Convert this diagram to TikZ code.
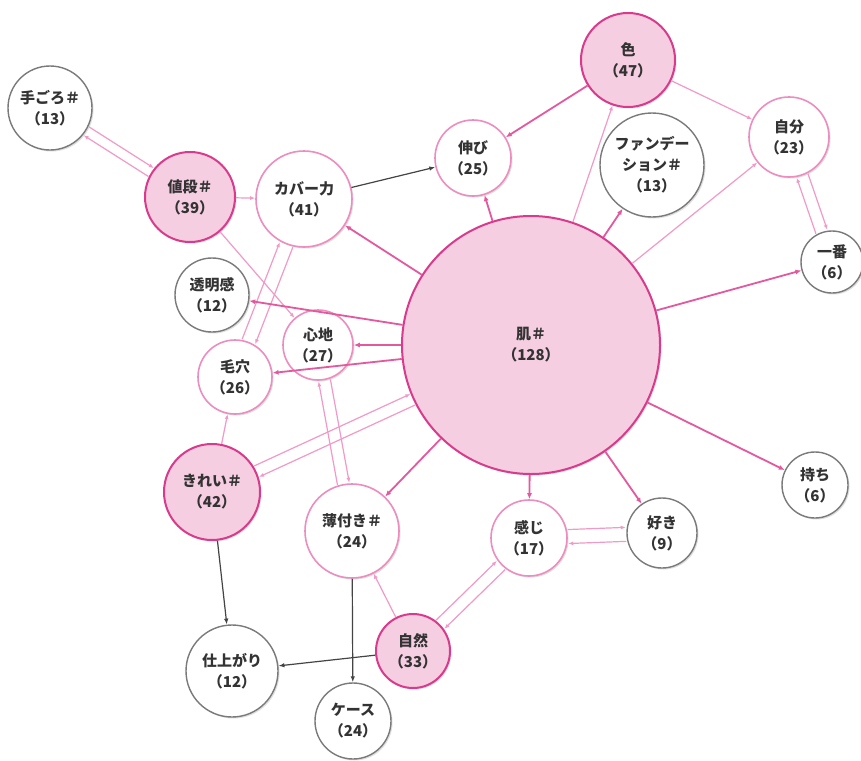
\documentclass[tikz,border=0pt]{standalone}
\usepackage{fontspec}
\setmainfont{Noto Sans CJK JP}
\usetikzlibrary{calc,arrows.meta,shadows}
\definecolor{pkfill}{HTML}{F6CEE2}
\definecolor{pkdark}{HTML}{D93A8C}
\definecolor{pkline}{HTML}{E4589E}
\definecolor{pklight}{HTML}{F29AC6}
\definecolor{pkborder}{HTML}{EC8DBE}
\definecolor{gyborder}{HTML}{7A7A7A}
\definecolor{txt}{HTML}{333333}
\definecolor{gyline}{HTML}{444444}
\newcommand\twoway[5]{%
  \draw[lp, shorten <=#3, shorten >=#4] ($(#1)!#5!90:(#2)$) -- ($(#2)!#5!-90:(#1)$);
  \draw[lp, shorten <=#4, shorten >=#3] ($(#2)!#5!90:(#1)$) -- ($(#1)!#5!-90:(#2)$);
}
\begin{document}
\begin{tikzpicture}[x=1pt,y=-1pt,
  base/.style={circle, inner sep=0pt, align=center, text=txt,
    font=\fontsize{15}{21}\selectfont\bfseries,
    drop shadow={shadow xshift=1.5pt, shadow yshift=-1.5pt, opacity=0.25}},
  gnode/.style={base, draw=gyborder, line width=1.4pt, fill=white},
  wnode/.style={base, draw=pkborder, line width=1.6pt, fill=white},
  pnode/.style={base, draw=pkdark, line width=2pt, fill=pkfill},
  dp/.style={draw=pkline, line width=1.8pt, -{Latex[length=6pt,width=5pt]}},
  lp/.style={draw=pklight, line width=1.2pt, -{Latex[length=5pt,width=4pt]}},
  gy/.style={draw=gyline, line width=1.2pt, -{Latex[length=6pt,width=4.5pt]}}
]
\useasboundingbox[fill=white] (0,0) rectangle (861,760);

\node[gnode, minimum size=84] (teg) at (50,108) {手ごろ＃\\（13）};
\node[pnode, minimum size=90] (ned) at (190,197) {値段＃\\（39）};
\node[wnode, minimum size=96] (cov) at (304,199) {カバー力\\（41）};
\node[wnode, minimum size=76] (nob) at (473,158) {伸び\\（25）};
\node[pnode, minimum size=94] (iro) at (628,60) {色\\（47）};
\node[gnode, minimum size=104] (fan) at (652,165) {ファンデー\\ション＃\\（13）};
\node[wnode, minimum size=80] (jib) at (789,137) {自分\\（23）};
\node[gnode, minimum size=62] (ich) at (832,262) {一番\\（6）};
\node[gnode, minimum size=74] (tom) at (212,295) {透明感\\（12）};
\node[wnode, minimum size=70] (koc) at (318,345) {心地\\（27）};
\node[wnode, minimum size=74] (ken) at (235,377) {毛穴\\（26）};
\node[pnode, minimum size=258] (hada) at (531,345) {肌＃\\（128）};
\node[gnode, minimum size=66] (mot) at (815,485) {持ち\\（6）};
\node[pnode, minimum size=96] (kir) at (212,492) {きれい＃\\（42）};
\node[wnode, minimum size=94] (usu) at (352,531) {薄付き＃\\（24）};
\node[wnode, minimum size=76] (kan) at (529,538) {感じ\\（17）};
\node[gnode, minimum size=70] (suk) at (662,533) {好き\\（9）};
\node[pnode, minimum size=74] (shi) at (413,651) {自然\\（33）};
\node[gnode, minimum size=92] (sia) at (232,671) {仕上がり\\（12）};
\node[gnode, minimum size=76] (cas) at (353,721) {ケース\\（24）};

% two-way light pink pairs
\twoway{teg}{ned}{43pt}{46pt}{5pt}
\twoway{cov}{ken}{49pt}{38pt}{7pt}
\twoway{hada}{kir}{130pt}{49pt}{6pt}
\twoway{koc}{usu}{36pt}{48pt}{6pt}
\twoway{jib}{ich}{41pt}{32pt}{6pt}
\twoway{kan}{suk}{39pt}{36pt}{7pt}
\twoway{shi}{kan}{38pt}{39pt}{6pt}

% single light pink
\draw[lp] (ned) -- (cov);
\draw[lp] (ned) -- (koc);
\draw[lp] (hada) -- (jib);
\draw[lp] (hada) -- (iro);
\draw[lp] (iro) -- (jib);
\draw[lp] (shi) -- (usu);
\draw[lp] (kir) -- (ken);

% dark pink
\draw[dp] (hada) -- (cov);
\draw[dp] (hada) -- (tom);
\draw[dp] (hada) -- (koc);
\draw[dp] (hada) -- (ken);
\draw[dp] (hada) -- (usu);
\draw[dp] (hada) -- (kan);
\draw[dp] (hada) -- (suk);
\draw[dp] (hada) -- (mot);
\draw[dp] (hada) -- (ich);
\draw[dp] (hada) -- (fan);
\draw[dp] (hada) -- (nob);
\draw[dp] (iro) -- (nob);

% gray
\draw[gy] (cov) -- (nob);
\draw[gy] (kir) -- (sia);
\draw[gy] (shi) -- (sia);
\draw[gy] (usu) -- (cas);
\end{tikzpicture}
\end{document}
